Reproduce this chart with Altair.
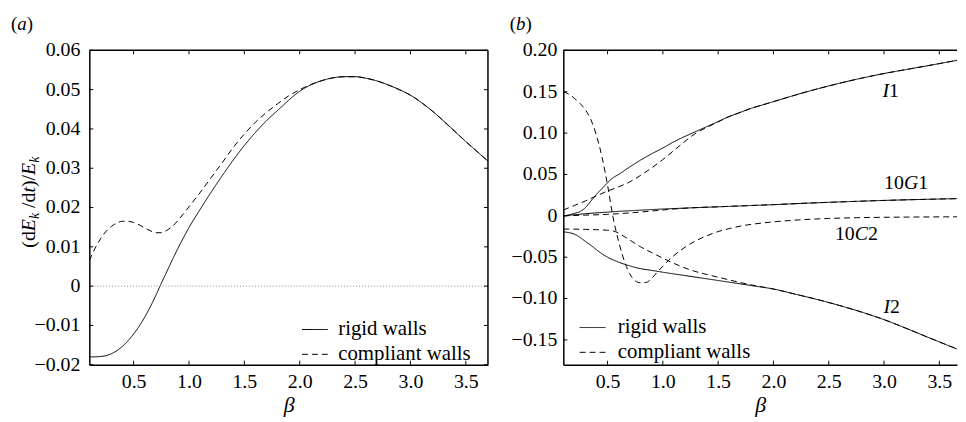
import altair as alt
import pandas as pd

FONT = "Liberation Serif"
WALLS = ["rigid walls", "compliant walls"]
DASHES = [[1, 0], [6, 4]]

# ---------------- panel (a) ----------------
A_BETA_RIGID = [0.10, 0.15, 0.20, 0.25, 0.30, 0.35, 0.40, 0.45, 0.50, 0.55, 0.60, 0.65, 0.70,
                0.75, 0.80, 0.85, 0.90, 0.95, 1.00, 1.10, 1.20, 1.30, 1.40, 1.50, 1.60,
                1.70, 1.80, 1.90, 2.00, 2.10, 2.20, 2.30, 2.40, 2.50, 2.60, 2.70, 2.80,
                2.90, 3.00, 3.10, 3.20, 3.30, 3.40, 3.50, 3.60, 3.70]
A_RIGID = [-0.0180, -0.0180, -0.0179, -0.0177, -0.0172, -0.0164, -0.0153, -0.0139, -0.0122,
           -0.0102, -0.0079, -0.0053, -0.0024, 0.0007, 0.0037, 0.0067, 0.0096, 0.0123, 0.0149,
           0.0195, 0.0239, 0.0281, 0.0321, 0.0358, 0.0391, 0.0421, 0.0447, 0.0473, 0.0496,
           0.0512, 0.0523, 0.0530, 0.0533, 0.0533, 0.0529, 0.0522, 0.0512, 0.0500, 0.0486,
           0.0467, 0.0445, 0.0420, 0.0394, 0.0368, 0.0343, 0.0318]
A_BETA_COMPLIANT = [0.10, 0.15, 0.20, 0.25, 0.30, 0.35, 0.40, 0.45, 0.50, 0.55, 0.60, 0.65,
                    0.70, 0.75, 0.80, 0.85, 0.90, 0.95, 1.00, 1.10, 1.20, 1.30, 1.40, 1.50,
                    1.60, 1.70, 1.80, 1.90, 2.00, 2.10, 2.20, 2.30, 2.40, 2.50, 2.60, 2.70,
                    2.80, 2.90, 3.00, 3.10, 3.20, 3.30, 3.40, 3.50, 3.60, 3.70]
A_COMPLIANT = [0.0065, 0.0095, 0.0120, 0.0139, 0.0152, 0.0161, 0.0165, 0.0165, 0.0162, 0.0156,
               0.0148, 0.0141, 0.0136, 0.0136, 0.0142, 0.0152, 0.0167, 0.0184, 0.0202, 0.0238,
               0.0276, 0.0314, 0.0353, 0.0387, 0.0417, 0.0442, 0.0464, 0.0484, 0.0500, 0.0513,
               0.0523, 0.0530, 0.0533, 0.0533, 0.0529, 0.0522, 0.0512, 0.0500, 0.0486, 0.0467,
               0.0445, 0.0420, 0.0394, 0.0368, 0.0343, 0.0318]
A_XTICKS = [0.5, 1.0, 1.5, 2.0, 2.5, 3.0, 3.5]
A_YTICKS = [-0.02, -0.01, 0.0, 0.01, 0.02, 0.03, 0.04, 0.05, 0.06]

# ---------------- panel (b) ----------------
B_I1_R_BETA = [0.10, 0.15, 0.20, 0.25, 0.30, 0.35, 0.40, 0.45, 0.50, 0.55, 0.60, 0.70, 0.80,
               0.90, 1.00, 1.10, 1.20, 1.30, 1.40, 1.50, 1.60, 1.70, 1.80, 1.90, 2.00, 2.25,
               2.50, 2.75, 3.00, 3.25, 3.50, 3.70]
B_I1_R = [0.000, 0.001, 0.003, 0.005, 0.010, 0.018, 0.026, 0.033, 0.040, 0.046, 0.050, 0.059,
          0.0675, 0.075, 0.082, 0.0895, 0.096, 0.102, 0.108, 0.114, 0.120, 0.125, 0.130, 0.134,
          0.138, 0.148, 0.157, 0.165, 0.172, 0.178, 0.184, 0.189]
B_I1_C_BETA = [0.10, 0.20, 0.30, 0.40, 0.50, 0.60, 0.70, 0.80, 0.90, 1.00, 1.10, 1.20, 1.30,
               1.40, 1.50, 1.60, 1.70, 1.80, 1.90, 2.00, 2.25, 2.50, 2.75, 3.00, 3.25, 3.50, 3.70]
B_I1_C = [0.007, 0.0125, 0.018, 0.024, 0.030, 0.035, 0.041, 0.049, 0.058, 0.068, 0.079, 0.090,
          0.100, 0.107, 0.1135, 0.120, 0.125, 0.130, 0.134, 0.138, 0.148, 0.157, 0.165, 0.172,
          0.178, 0.184, 0.189]
B_G1_R_BETA = [0.10, 0.30, 0.50, 0.75, 1.00, 1.25, 1.50, 1.75, 2.00, 2.25, 2.50, 2.75, 3.00,
               3.25, 3.50, 3.70]
B_G1_R = [0.000, 0.0025, 0.0045, 0.0065, 0.0082, 0.0096, 0.0109, 0.0122, 0.0135, 0.0150,
          0.0163, 0.0175, 0.0186, 0.0195, 0.0203, 0.0209]
B_G1_C_BETA = [0.10, 0.30, 0.50, 0.70, 0.90, 1.10, 1.25, 1.50, 1.75, 2.00, 2.25, 2.50, 2.75,
               3.00, 3.25, 3.50, 3.70]
B_G1_C = [0.000, 0.0008, 0.0018, 0.0035, 0.0058, 0.0082, 0.0096, 0.0109, 0.0122, 0.0135,
          0.0150, 0.0163, 0.0175, 0.0186, 0.0195, 0.0203, 0.0209]
B_C2_C_BETA = [0.10, 0.15, 0.20, 0.25, 0.30, 0.35, 0.40, 0.45, 0.50, 0.55, 0.60, 0.65, 0.70,
               0.75, 0.80, 0.85, 0.90, 0.95, 1.00, 1.05, 1.10, 1.20, 1.30, 1.40, 1.50, 1.60,
               1.70, 1.80, 1.90, 2.00, 2.25, 2.50, 2.75, 3.00, 3.25, 3.50, 3.70]
B_C2_C = [0.150, 0.147, 0.142, 0.136, 0.128, 0.116, 0.097, 0.071, 0.037, -0.002, -0.031,
          -0.054, -0.070, -0.0785, -0.081, -0.0805, -0.0755, -0.068, -0.061, -0.054, -0.048,
          -0.038, -0.030, -0.024, -0.019, -0.0155, -0.0125, -0.0103, -0.0087, -0.0073,
          -0.0048, -0.0032, -0.0023, -0.0018, -0.0015, -0.0013, -0.0012]
B_I2_R_BETA = [0.10, 0.15, 0.20, 0.25, 0.30, 0.35, 0.40, 0.45, 0.50, 0.55, 0.60, 0.70, 0.80,
               0.90, 1.00, 1.20, 1.40, 1.60, 1.80, 2.00, 2.20, 2.40, 2.60, 2.80, 3.00, 3.20,
               3.40, 3.60, 3.70]
B_I2_R = [-0.0195, -0.0203, -0.0222, -0.026, -0.031, -0.0357, -0.041, -0.046, -0.050, -0.0533,
          -0.056, -0.0605, -0.0639, -0.066, -0.0682, -0.0722, -0.0762, -0.0802, -0.0843,
          -0.0885, -0.0948, -0.1013, -0.1085, -0.1165, -0.1255, -0.136, -0.147, -0.1578,
          -0.1632]
B_I2_C_BETA = [0.10, 0.20, 0.30, 0.40, 0.50, 0.55, 0.60, 0.65, 0.70, 0.80, 0.90, 1.00, 1.10,
               1.20, 1.30, 1.40, 1.50, 1.60, 1.70, 1.80, 1.90, 2.00, 2.20, 2.40, 2.60, 2.80,
               3.00, 3.20, 3.40, 3.60, 3.70]
B_I2_C = [-0.0160, -0.0161, -0.0164, -0.0168, -0.0175, -0.0183, -0.0210, -0.0250, -0.0292,
          -0.0376, -0.0445, -0.0512, -0.0575, -0.0630, -0.0675, -0.0710, -0.0742, -0.0775,
          -0.0806, -0.0835, -0.0860, -0.0885, -0.0948, -0.1013, -0.1085, -0.1165, -0.1255,
          -0.136, -0.147, -0.1578, -0.1632]
B_XTICKS = [0.5, 1.0, 1.5, 2.0, 2.5, 3.0, 3.5]
B_YTICKS = [-0.15, -0.10, -0.05, 0.0, 0.05, 0.10, 0.15, 0.20]

# curve labels in panel (b): anchor (beta, value) and text pieces (text, italic)
B_LABEL_BETA = [3.06, 3.20, 2.75, 3.07]
B_LABEL_VALUE = [0.151, 0.0396, -0.0216, -0.110]
B_LABEL_PARTS = [[("I", True), ("1", False)],
                 [("10", False), ("G", True), ("1", False)],
                 [("10", False), ("C", True), ("2", False)],
                 [("I", True), ("2", False)]]

# approximate Times advance widths (em), used only to butt text pieces together
ADV = {"0": .5, "1": .5, "2": .5, "I": .333, "G": .722, "C": .667, "(": .333, ")": .333,
       "a": .5, "b": .5, "d": .5, "E": .611, "k": .444, " ": .25, "/": .278, "t": .278}


def width(s, size):
    return sum(ADV.get(c, 0.5) for c in s) * size


def tick_label(v):
    if v == 0:
        return "0"
    s = f"{abs(v):.2f}"
    return ("\u2212" + s) if v < 0 else s


W_A, W_B, H = 402, 397, 317


def x_axis(values):
    return alt.Axis(values=values, tickCount=8, format=".1f", ticks=False, domain=True,
                    domainColor="black", domainWidth=1.5, labelFont=FONT, labelFontSize=20,
                    labelColor="black", labelPadding=7, labelOverlap=False, labelFlush=False,
                    title="β", titleFont=FONT, titleFontStyle="italic",
                    titleFontWeight="normal", titleFontSize=22, titleColor="black",
                    titlePadding=3, grid=False)


def y_axis():
    return alt.Axis(labels=False, ticks=False, domain=True, domainColor="black",
                    domainWidth=1.5, title=None, grid=False)


def text_piece(txt, x, y, dx=0, dy=0, italic=False, size=20, angle=0):
    return alt.Chart(alt.Data(values=[{"k": 0}])).mark_text(
        text=txt, font=FONT, fontSize=size, fontStyle="italic" if italic else "normal",
        align="left", baseline="alphabetic", dx=dx, dy=dy, angle=angle, color="black"
    ).encode(x=alt.value(x), y=alt.value(y))


def frame(w, right=True):
    one = alt.Data(values=[{"k": 0}])
    parts = [alt.Chart(one).mark_rule(color="black", strokeWidth=1.5).encode(
        x=alt.value(0), x2=alt.value(w), y=alt.value(0))]
    if right:
        parts.append(alt.Chart(one).mark_rule(color="black", strokeWidth=1.5).encode(
            x=alt.value(w), y=alt.value(0), y2=alt.value(H)))
    return parts


def ticks(xt, yt, w, xenc, yenc, pad, right=True):
    dx = pd.DataFrame({"beta": xt})
    dy = pd.DataFrame({"val": yt, "lab": [tick_label(v) for v in yt]})
    r = dict(color="black", strokeWidth=1)
    parts = [
        alt.Chart(dx).mark_rule(**r).encode(x=xenc, y=alt.value(H), y2=alt.value(H - 4)),
        alt.Chart(dx).mark_rule(**r).encode(x=xenc, y=alt.value(0), y2=alt.value(4)),
        alt.Chart(dy).mark_rule(**r).encode(y=yenc, x=alt.value(0), x2=alt.value(4)),
        alt.Chart(dy).mark_text(font=FONT, fontSize=20, color="black", align="right",
                                baseline="middle", dx=-pad).encode(
            y=yenc, x=alt.value(0), text="lab:N"),
    ]
    if right:
        parts.append(alt.Chart(dy).mark_rule(**r).encode(
            y=yenc, x=alt.value(w), x2=alt.value(w - 4)))
    return parts


def series(rows, beta, vals, wall, curve):
    for b, v in zip(beta, vals):
        rows.append({"beta": b, "val": v, "wall": wall, "curve": curve})


def legend(x, y, label_offset):
    return alt.Legend(orient="none", legendX=x, legendY=y, title=None, symbolType="stroke",
                      symbolSize=676, symbolStrokeWidth=1, symbolStrokeColor="black",
                      labelFont=FONT, labelFontSize=21, labelColor="black",
                      labelOffset=label_offset, rowPadding=1, padding=0, labelLimit=0)


# ---------- build panel (a)
rows_a = []
series(rows_a, A_BETA_RIGID, A_RIGID, WALLS[0], "rigid")
series(rows_a, A_BETA_COMPLIANT, A_COMPLIANT, WALLS[1], "compliant")
df_a = pd.DataFrame(rows_a)

XA = alt.X("beta:Q", scale=alt.Scale(domain=[0.1, 3.7], nice=False, zero=False),
           axis=x_axis(A_XTICKS))
YA = alt.Y("val:Q", scale=alt.Scale(domain=[-0.02, 0.06], nice=False, zero=False),
           axis=y_axis())

lines_a = alt.Chart(df_a).mark_line(color="black", strokeWidth=1, interpolate="monotone", clip=True).encode(
    x=XA, y=YA,
    strokeDash=alt.StrokeDash("wall:N", scale=alt.Scale(domain=WALLS, range=DASHES),
                              legend=legend(214, 268, 10)),
    detail="curve:N",
    order=alt.Order("beta:Q"),
)

zero_line = alt.Chart(pd.DataFrame({"val": [0.0]})).mark_rule(
    color="#8a8a8a", strokeDash=[1, 2], strokeWidth=1).encode(y=YA)

# y title (dE_k /dt)/E_k, vertical, built from pieces: (text, italic, size, subscript shift, extra gap)
YT = [("(d", False, 20, 0, 0), ("E", True, 20, 0, 0), ("k", True, 14, 4, 0),
      ("/d", False, 20, 0, 5), ("t", True, 20, 0, 0), (")/", False, 20, 0, 0),
      ("E", True, 20, 0, 0), ("k", True, 14, 4, 0)]
ytitle = []
off = 0.0
for s, it, sz, sub, gap in YT:
    off += gap
    ytitle.append(text_piece(s, -55, 199, dx=off, dy=sub, italic=it, size=sz, angle=270))
    off += width(s, sz)

label_a = [text_piece("(", -79, -21, 0, 0, False, 19),
           text_piece("a", -79, -21, width("(", 19), 0, True, 19),
           text_piece(")", -79, -21, width("(a", 19), 0, False, 19)]

panel_a = alt.layer(lines_a, zero_line, *ticks(A_XTICKS, A_YTICKS, W_A, XA, YA, 9),
                    *frame(W_A), *ytitle, *label_a).properties(width=W_A, height=H)

# ---------- build panel (b)
rows_b = []
series(rows_b, B_I1_R_BETA, B_I1_R, WALLS[0], "I1r")
series(rows_b, B_G1_R_BETA, B_G1_R, WALLS[0], "G1r")
series(rows_b, B_I2_R_BETA, B_I2_R, WALLS[0], "I2r")
series(rows_b, B_I1_C_BETA, B_I1_C, WALLS[1], "I1c")
series(rows_b, B_G1_C_BETA, B_G1_C, WALLS[1], "G1c")
series(rows_b, B_C2_C_BETA, B_C2_C, WALLS[1], "C2c")
series(rows_b, B_I2_C_BETA, B_I2_C, WALLS[1], "I2c")
df_b = pd.DataFrame(rows_b)

XB = alt.X("beta:Q", scale=alt.Scale(domain=[0.1, 3.66], nice=False, zero=False),
           axis=x_axis(B_XTICKS))
YB = alt.Y("val:Q", scale=alt.Scale(domain=[-0.18, 0.20], nice=False, zero=False),
           axis=y_axis())

lines_b = alt.Chart(df_b).mark_line(color="black", strokeWidth=1, interpolate="monotone", clip=True).encode(
    x=XB, y=YB,
    strokeDash=alt.StrokeDash("wall:N", scale=alt.Scale(domain=WALLS, range=DASHES),
                              legend=legend(16, 266, 12)),
    detail="curve:N",
    order=alt.Order("beta:Q"),
)

curve_labels = []
for b, v, parts in zip(B_LABEL_BETA, B_LABEL_VALUE, B_LABEL_PARTS):
    total = sum(width(s, 20) for s, _ in parts)
    off = -total / 2
    for s, it in parts:
        curve_labels.append(
            alt.Chart(pd.DataFrame({"beta": [b], "val": [v]})).mark_text(
                text=s, font=FONT, fontSize=20, fontStyle="italic" if it else "normal",
                align="left", baseline="middle", dx=off, color="black"
            ).encode(x=XB, y=YB))
        off += width(s, 20)

label_b = [text_piece("(", -54, -21, 0, 0, False, 19),
           text_piece("b", -54, -21, width("(", 19), 0, True, 19),
           text_piece(")", -54, -21, width("(b", 19), 0, False, 19)]

panel_b = alt.layer(lines_b, *ticks(B_XTICKS, B_YTICKS, W_B, XB, YB, 6, right=False),
                    *frame(W_B, right=False), *curve_labels, *label_b).properties(width=W_B, height=H)

chart = alt.hconcat(panel_a, panel_b, spacing=21).resolve_scale(
    strokeDash="independent").resolve_legend(strokeDash="independent").properties(
    padding={"left": 3, "top": 5, "right": 0, "bottom": 0}, background="white"
).configure_view(stroke=None).configure_axis(grid=False)

chart.save("out.html", embed_options={"renderer": "svg", "actions": False})
